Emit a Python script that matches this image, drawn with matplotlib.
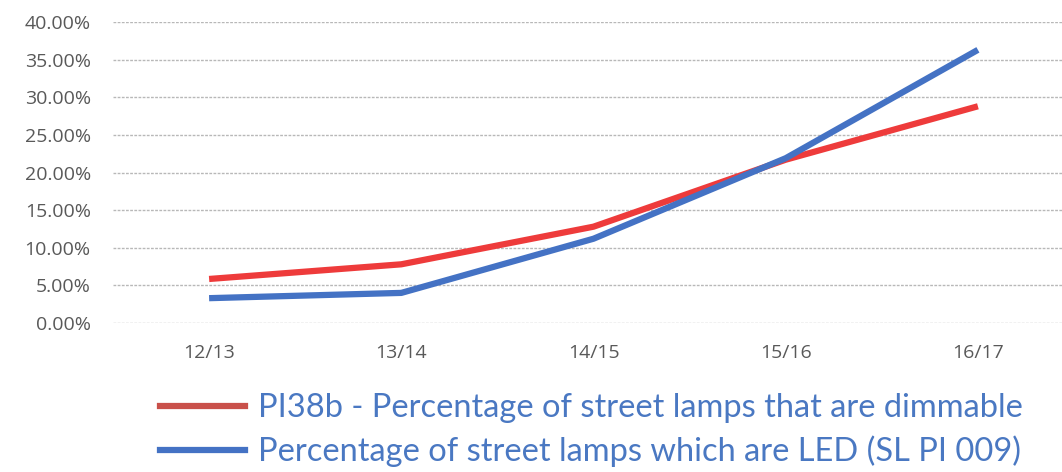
import matplotlib
matplotlib.use("Agg")
import matplotlib.pyplot as plt
from matplotlib.ticker import FuncFormatter, MultipleLocator
from matplotlib.lines import Line2D

categories = ["12/13", "13/14", "14/15", "15/16", "16/17"]
dimmable = [5.85, 7.8, 12.8, 21.7, 28.8]
led = [3.3, 4.0, 11.2, 21.9, 36.3]
labels = ["PI38b - Percentage of street lamps that are dimmable",
          "Percentage of street lamps which are LED (SL PI 009)"]

W, H = 1062, 472
fig = plt.figure(figsize=(W / 100, H / 100), dpi=100)
left, right = 113, 1074
top, bottom = 22, 323
ax = fig.add_axes([left / W, (H - bottom) / H, (right - left) / W, (bottom - top) / H])

x = list(range(len(categories)))
ax.plot(x, dimmable, color="#EE3B3B", lw=4.5, solid_capstyle="butt", zorder=3)
ax.plot(x, led, color="#4472C4", lw=4.5, solid_capstyle="butt", zorder=3)

ax.set_xlim(-0.5, 4.5)
ax.set_ylim(0, 40)
ax.yaxis.set_major_locator(MultipleLocator(5))
ax.yaxis.set_major_formatter(FuncFormatter(lambda v, p: f"{v:.2f}%"))
ax.set_xticks(x)
ax.set_xticklabels(categories)
ax.grid(axis="y", color="#b8b8b8", lw=1, linestyle=(0, (2, 1)))
ax.set_axisbelow(True)
for s in ax.spines.values():
    s.set_visible(False)
ax.tick_params(axis="both", length=0, labelsize=14, colors="#595959")
ax.tick_params(axis="y", pad=16)
ax.tick_params(axis="x", pad=15)
for t in ax.get_yticklabels() + ax.get_xticklabels():
    t.set_fontfamily("Open Sans")

h1 = Line2D([], [], color="#C9504A", lw=4.5)
h2 = Line2D([], [], color="#4472C4", lw=4.5)
fs = 23.5
leg = fig.legend([h1, h2], labels, loc="center left", bbox_to_anchor=(160 / W, 1 - 430 / H),
                 frameon=False, borderpad=0, borderaxespad=0,
                 handlelength=61 / fs, handletextpad=9.4 / fs,
                 labelspacing=0.38,
                 prop={"family": "Lato", "size": fs, "weight": "normal"})
for t in leg.get_texts():
    t.set_color("#4A78C2")

fig.savefig("out.png", dpi=100)
